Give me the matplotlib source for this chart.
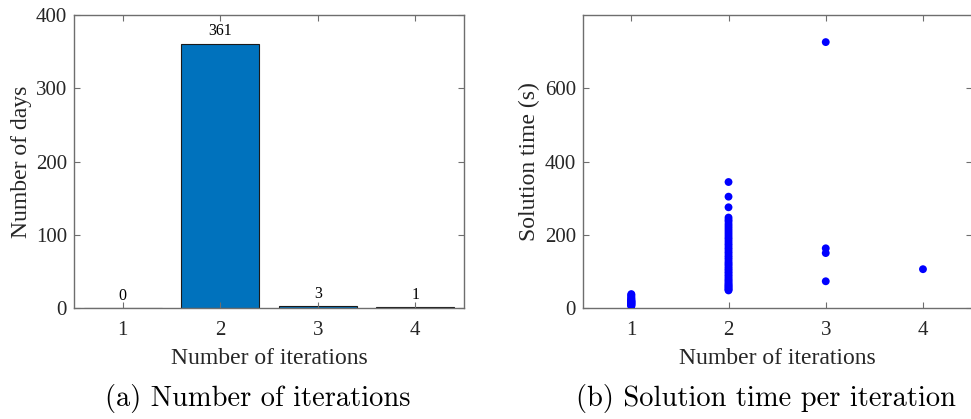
"""Iterations per day and solution time per iteration."""

import matplotlib

matplotlib.use("Agg")

import matplotlib.pyplot as plt

# (a) number of days per iteration count
iterations = [1, 2, 3, 4]
days = [0, 361, 3, 1]

# (b) solution time (s) of each run, grouped by iteration count
iter1_times = [5, 6, 8, 9, 10, 11, 12, 13, 14, 15, 16, 17, 18, 19, 20, 21, 23, 25, 27, 30, 33, 36, 38]
iter2_times = [48, 50, 53, 56, 59, 62, 65, 69, 73, 77, 81, 86, 90, 95, 99, 104, 108, 113, 118, 122,
               127, 133, 138, 143, 149, 154, 160, 165, 171, 176, 182, 188, 193, 199, 205, 211, 217,
               223, 229, 236, 241, 247, 275, 304, 344]
iter3_times = [726, 163, 150, 73]
iter4_times = [106]

TICK_FONT = "Liberation Serif"
CAPTION_FONT = "cmr10"
TEXT = "#262626"
SPINE = "#6e6e6e"


def style_axes(ax):
    for spine in ax.spines.values():
        spine.set_color(SPINE)
        spine.set_linewidth(1.0)
    ax.tick_params(direction="in", length=4, width=0.8, color=SPINE,
                   top=True, right=True, labelsize=15, labelcolor=TEXT)
    ax.tick_params(axis="x", pad=9)
    ax.tick_params(axis="y", pad=5)
    for lab in ax.get_xticklabels() + ax.get_yticklabels():
        lab.set_fontfamily(TICK_FONT)


fig = plt.figure(figsize=(9.71, 4.19), dpi=100)
ax1 = fig.add_axes([0.0762, 0.2649, 0.4017, 0.6993])
ax2 = fig.add_axes([0.6001, 0.2649, 0.4005, 0.6993])

bars = ax1.bar(iterations, days, width=0.8, color="#0072BD", edgecolor="#1a1a1a", linewidth=0.8)
for x, d in zip(iterations, days):
    ax1.annotate(f"{d}", (x, d), xytext=(0, 3), textcoords="offset points",
                 ha="center", va="bottom", fontsize=11.5, family=TICK_FONT, color="black")
ax1.set_xlim(0.5, 4.5)
ax1.set_ylim(0, 400)
ax1.set_xticks(iterations)
ax1.set_yticks([0, 100, 200, 300, 400])
ax1.set_xlabel("Number of iterations", fontsize=17, family=TICK_FONT, color=TEXT, labelpad=6)
ax1.set_ylabel("Number of days", fontsize=17, family=TICK_FONT, color=TEXT, labelpad=3)
style_axes(ax1)

groups = [iter1_times, iter2_times, iter3_times, iter4_times]
for x, vals in zip(iterations, groups):
    ax2.scatter([x] * len(vals), vals, s=32, color="#0000ff", edgecolors="none", zorder=3)
ax2.set_xlim(0.5, 4.5)
ax2.set_ylim(0, 800)
ax2.set_xticks(iterations)
ax2.set_yticks([0, 200, 400, 600])
ax2.set_xlabel("Number of iterations", fontsize=17, family=TICK_FONT, color=TEXT, labelpad=6)
ax2.set_ylabel("Solution time (s)", fontsize=17, family=TICK_FONT, color=TEXT, labelpad=3)
style_axes(ax2)

fig.text(258 / 971, 1 - 398 / 419, "(a) Number of iterations", ha="center", va="center",
         fontsize=20.5, family=CAPTION_FONT, color="black")
fig.text(766 / 971, 1 - 398 / 419, "(b) Solution time per iteration", ha="center", va="center",
         fontsize=20.5, family=CAPTION_FONT, color="black")

fig.savefig("out.png", dpi=100)
